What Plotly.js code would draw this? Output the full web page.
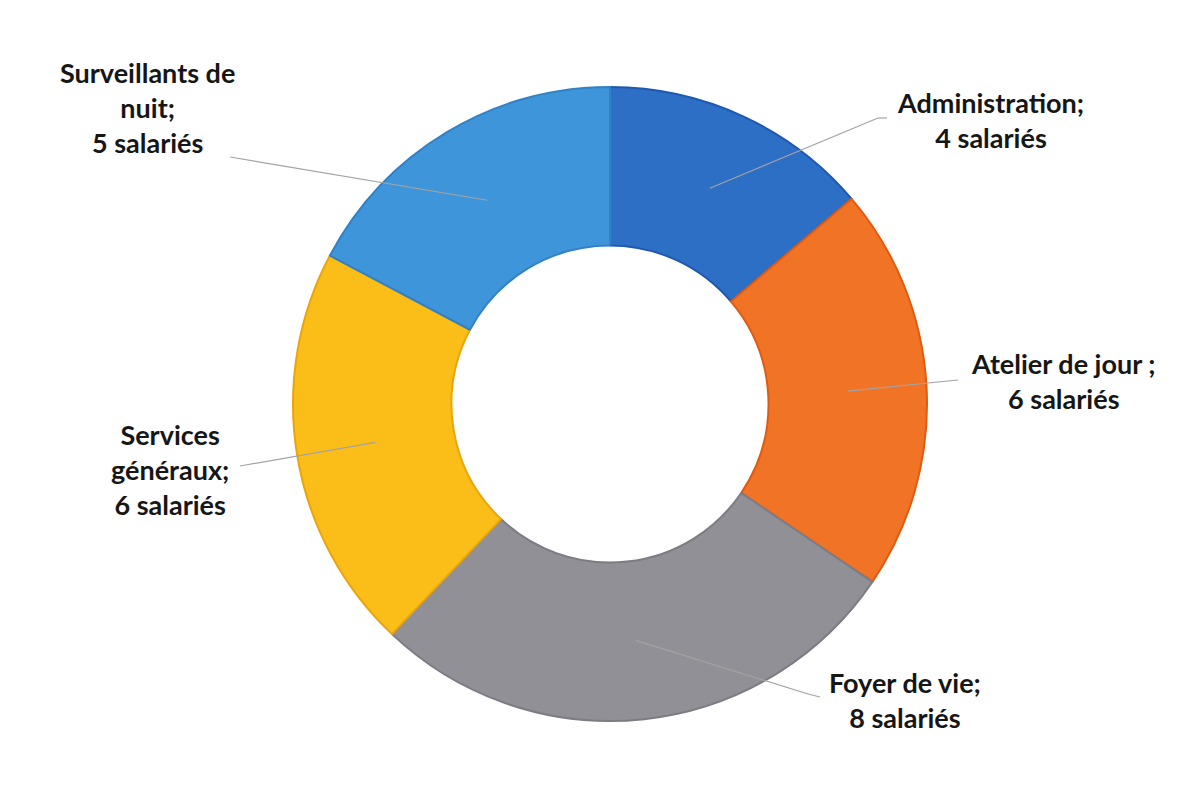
<!DOCTYPE html>
<html>
<head>
<meta charset="utf-8">
<script src="https://cdn.plot.ly/plotly-3.0.1.min.js"></script>
<style>html,body{margin:0;padding:0;background:#fff;}#chart{width:1203px;height:796px;}</style>
</head>
<body>
<div id="chart"></div>
<script>
// ---- data ----
const categories = ["Administration", "Atelier de jour", "Foyer de vie", "Services généraux", "Surveillants de nuit"];
const values = [4, 6, 8, 6, 5];
const labelTexts = [
  "Administration;<br>4 salariés",
  "Atelier de jour ;<br>6 salariés",
  "Foyer de vie;<br>8 salariés",
  "Services<br>généraux;<br>6 salariés",
  "Surveillants de<br>nuit;<br>5 salariés"
];

// ---- style ----
const W = 1203, H = 796;
const fillColors = ["#2e6fc6", "#f07326", "#909096", "#fbbd17", "#3f95d9"];
const edgeColors = ["#1f58b0", "#e05a12", "#7c7c84", "#eaa50c", "#3181c6"];
const cx = 610, cy = 404, R = 317, hole = 0.5;
const dom = {x: [(cx - R) / W, (cx + R) / W], y: [(H - cy - R) / H, (H - cy + R) / H]};
// label placement (pixel) and leader-line end (pixel)
const labelPos = [[990, 120], [1063, 381], [905, 700], [170, 470], [147, 107]];
const lineEnd = [[[878, 118], [887, 118]], [[958, 380]], [[808, 694], [820, 697]], [[240, 466]], [[230, 157]]];

const total = values.reduce((a, b) => a + b, 0);
const shapes = [];
const annotations = [];
let cum = 0;
values.forEach((v, i) => {
  const th = 2 * Math.PI * (cum + v / 2) / total;
  cum += v;
  const rm = R * (1 + hole) / 2;
  const px = cx + rm * Math.sin(th), py = cy - rm * Math.cos(th);
  let pts = [[px, py]].concat(lineEnd[i]);
  for (let k = 0; k < pts.length - 1; k++) {
    shapes.push({type: 'line', xref: 'paper', yref: 'paper',
      x0: pts[k][0] / W, y0: 1 - pts[k][1] / H, x1: pts[k + 1][0] / W, y1: 1 - pts[k + 1][1] / H,
      line: {color: '#a3a3a3', width: 1.2}, layer: 'above'});
  }
  annotations.push({xref: 'paper', yref: 'paper', x: labelPos[i][0] / W, y: 1 - labelPos[i][1] / H,
    xanchor: 'center', yanchor: 'middle', text: labelTexts[i], showarrow: false, align: 'center',
    font: {family: 'Lato, "Open Sans", sans-serif', size: 27, color: '#161616', weight: 'bold'}});
});

const trace = {
  type: 'pie', labels: categories, values: values, hole: hole, sort: false,
  direction: 'clockwise', rotation: 0, textinfo: 'none', hoverinfo: 'label+value',
  domain: dom, showlegend: false,
  marker: {colors: fillColors, line: {color: edgeColors, width: 2}}
};

Plotly.newPlot('chart', [trace], {
  width: W, height: H, margin: {l: 0, r: 0, t: 0, b: 0},
  paper_bgcolor: '#ffffff', plot_bgcolor: '#ffffff',
  shapes: shapes, annotations: annotations, showlegend: false
}, {displayModeBar: false, staticPlot: true});
</script>
</body>
</html>
